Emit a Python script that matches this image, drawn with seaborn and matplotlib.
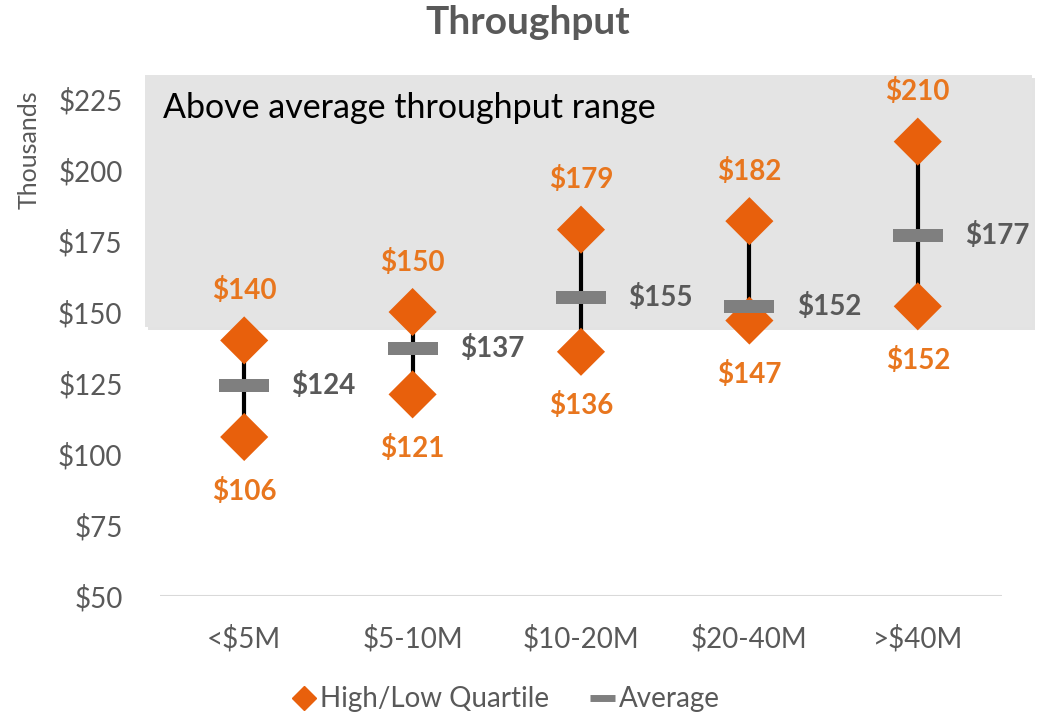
import matplotlib
matplotlib.use('Agg')
import matplotlib.pyplot as plt
import matplotlib.patheffects as pe
from matplotlib.patches import Rectangle
from matplotlib.lines import Line2D
import numpy as np
import pandas as pd
import seaborn as sns

# data (thousands of $)
categories = ['<$5M', '$5-10M', '$10-20M', '$20-40M', '>$40M']
high_q = [140, 150, 179, 182, 210]
low_q = [106, 121, 136, 147, 152]
average = [124, 137, 155, 152, 177]
y_ticks = [50, 75, 100, 125, 150, 175, 200, 225]
band_low, band_high = 144.7, 233.5

orange = '#E8600C'
orange_txt = '#E8761E'
grey = '#7F7F7F'
dark = '#595959'

sns.set_style('white')
plt.rcParams['font.family'] = ['Lato', 'DejaVu Sans']

df = pd.DataFrame({'cat': categories, 'high': high_q, 'low': low_q, 'avg': average})
quart = pd.concat([df[['cat', 'high']].rename(columns={'high': 'val'}),
                   df[['cat', 'low']].rename(columns={'low': 'val'})])

fig = plt.figure(figsize=(10.41, 7.15), dpi=100)
ax = fig.add_axes([0.1537, 0.1664, 0.8088, 0.7388])

xpos = np.arange(len(categories))

# shaded "above average" band
shade = Rectangle((-0.59, band_low), 5.27, band_high - band_low, facecolor='#E4E4E4',
                  edgecolor='none', zorder=0, clip_on=False)
shade.set_path_effects([pe.SimplePatchShadow(offset=(2, -2), shadow_rgbFace='#BBBBBB', alpha=0.4),
                        pe.Normal()])
ax.add_patch(shade)
ax.text(-0.48, 222, 'Above average throughput range', fontsize=24.5, color='black',
        va='center', ha='left', zorder=1)

# high-low lines
ax.vlines(xpos, df['low'], df['high'], color='black', lw=3, zorder=2)

sns.scatterplot(data=quart, x='cat', y='val', marker='D', s=600, color=orange,
                edgecolor='none', ax=ax, zorder=3, legend=False)
bar_marker = [(-1, -0.26), (1, -0.26), (1, 0.26), (-1, 0.26), (-1, -0.26)]
sns.scatterplot(data=df, x='cat', y='avg', marker=bar_marker, s=1300, color=grey,
                edgecolor='none', ax=ax, zorder=4, legend=False)

for i, row in df.iterrows():
    ax.annotate(f"${row['high']}", (i, row['high']), xytext=(0, 36), textcoords='offset points',
                ha='center', va='center', color=orange_txt, fontsize=20, fontweight='bold')
    ax.annotate(f"${row['low']}", (i, row['low']), xytext=(0, -39), textcoords='offset points',
                ha='center', va='center', color=orange_txt, fontsize=20, fontweight='bold')
    ax.annotate(f"${row['avg']}", (i, row['avg']), xytext=(34, 0), textcoords='offset points',
                ha='left', va='center', color=dark, fontsize=20, fontweight='bold')

ax.set_xlim(-0.5, len(categories) - 0.5)
ax.set_ylim(50, 236)
ax.set_yticks(y_ticks)
ax.set_yticklabels([f'${v}' for v in y_ticks])
ax.set_xticks(xpos)
ax.set_xticklabels(categories)
ax.tick_params(axis='y', length=0, pad=27, labelsize=20, labelcolor=dark)
ax.tick_params(axis='x', length=0, pad=21, labelsize=20, labelcolor=dark)
ax.set_xlabel('')
ax.set_ylabel('')
sns.despine(ax=ax, left=True, bottom=True, top=True, right=True)
ax.axhline(50, color='#D9D9D9', lw=1.5, zorder=1)

fig.text(0.507, 0.968, 'Throughput', ha='center', va='center', fontsize=28,
         fontweight='bold', color=dark)
fig.text(0.028, 0.79, 'Thousands', rotation=90, ha='center', va='center',
         fontsize=18, color=dark)

handles = [Line2D([], [], marker='D', color=orange, linestyle='none', markersize=12),
           Line2D([], [], marker='_', color=grey, linestyle='none', markersize=18,
                  markeredgewidth=5)]
fig.legend(handles, ['High/Low Quartile', 'Average'], loc='center', bbox_to_anchor=(0.485, 0.022),
           ncol=2, frameon=False, fontsize=20, labelcolor=dark, handletextpad=0.1,
           columnspacing=1.4, handlelength=1.0)

fig.savefig('out.png', dpi=100)
